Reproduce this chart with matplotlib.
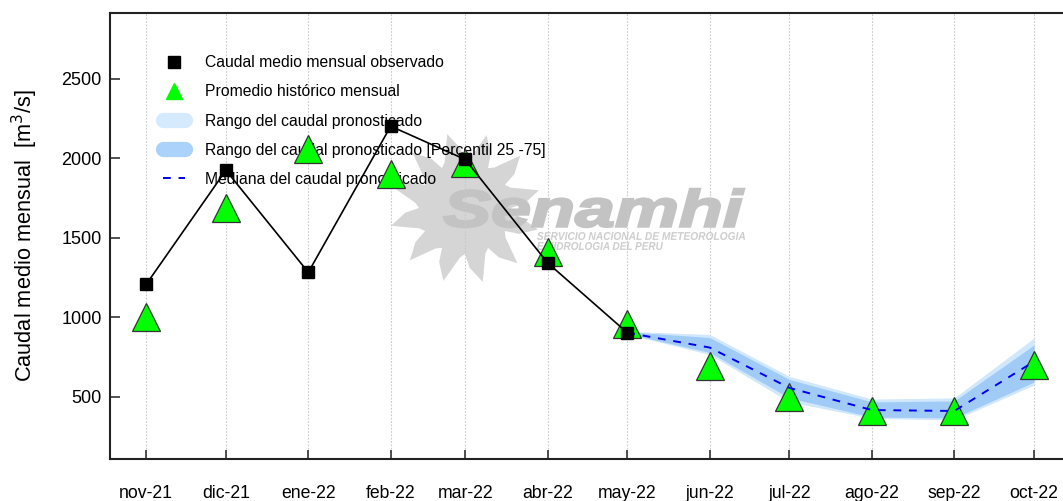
import numpy as np
import pandas as pd
import matplotlib
matplotlib.use("Agg")
import matplotlib.pyplot as plt
from matplotlib.lines import Line2D
from matplotlib.patches import PathPatch, Polygon
from matplotlib.textpath import TextPath
from matplotlib.font_manager import FontProperties
from matplotlib.transforms import Affine2D, IdentityTransform

# -------------------- data --------------------
months = pd.to_datetime([
    "2021-11-01", "2021-12-01", "2022-01-01", "2022-02-01", "2022-03-01", "2022-04-01",
    "2022-05-01", "2022-06-01", "2022-07-01", "2022-08-01", "2022-09-01", "2022-10-01",
])
month_labels = ["nov-21", "dic-21", "ene-22", "feb-22", "mar-22", "abr-22",
                "may-22", "jun-22", "jul-22", "ago-22", "sep-22", "oct-22"]

# observed monthly mean (nov-21 .. may-22)
observed = [1208, 1926, 1284, 2203, 1994, 1344, 904]
# historical monthly mean (all 12 months)
historical = [1000, 1687, 2060, 1905, 1970, 1409, 962, 698, 503, 409, 415, 701]

# forecast (may-22 .. oct-22)
fc_median = [904, 811, 557, 418, 412, 723]
fc_p25 = [898, 780, 494, 374, 368, 594]
fc_p75 = [910, 874, 610, 469, 475, 827]
fc_min = [895, 767, 469, 366, 355, 575]
fc_max = [913, 893, 629, 487, 494, 871]

W, H = 1063, 501
plt.rcParams["font.family"] = ["Liberation Sans", "DejaVu Sans"]

fig = plt.figure(figsize=(W / 100, H / 100), dpi=100)
ax = fig.add_axes([110 / W, (H - 459) / H, (W - 110) / W, (459 - 13) / H])

fc_dates = months[6:]
obs_dates = months[:7]

light_blue = "#d0e7fc"
mid_blue = "#9fcbf6"
dash = (0, (4, 4))

ax.fill_between(fc_dates, fc_min, fc_max, color=light_blue, lw=0, zorder=1)
ax.fill_between(fc_dates, fc_p25, fc_p75, color=mid_blue, lw=0, zorder=1.1)
ax.plot(months, historical, ls="none", marker="^", ms=19.5, mfc="#00ff00",
        mec="#333333", mew=0.9, zorder=3)
ax.plot(fc_dates, fc_median, color="#0000ee", ls=dash, lw=1.4, zorder=4)
ax.plot(obs_dates, observed, color="black", lw=1.2, marker="s", ms=8.5,
        mfc="black", mec="black", zorder=5)

# -------------------- watermark --------------------
ident = IdentityTransform()
cx, cy = 465, H - 208
n_rays = 12
pts = []
for k in range(n_rays):
    a0 = 2 * np.pi * k / n_rays
    step = 2 * np.pi / n_rays
    for frac, r in [(0.0, 46), (0.15, 60), (0.45, 76), (0.6, 62), (0.8, 50)]:
        a = a0 + frac * step
        pts.append((cx + r * np.cos(a), cy + r * np.sin(a)))
ax.add_patch(Polygon(pts, closed=True, transform=ident, facecolor="#d5d5d5",
                     edgecolor="none", zorder=0.2))


def text_patch(s, x0, x1, y_top, y_bot, color, lw_edge):
    prop = FontProperties(family="Liberation Sans", weight="bold", style="italic")
    tp = TextPath((0, 0), s, prop=prop, size=50)
    bb = tp.get_extents()
    sx = (x1 - x0) / bb.width
    sy = (y_bot - y_top) / bb.height
    tr = Affine2D().translate(-bb.x0, -bb.y0).scale(sx, sy).translate(x0, H - y_bot)
    path = tr.transform_path(tp)
    return PathPatch(path, transform=ident, facecolor=color, edgecolor=color,
                     lw=lw_edge, zorder=0.3)


ax.add_patch(text_patch("Senamhi", 444, 744, 189, 227, "#c3c3c3", 1.8))
ax.add_patch(text_patch("SERVICIO NACIONAL DE METEOROLOGIA", 537, 745, 232, 240, "#cdcdcd", 0))
ax.add_patch(text_patch("E HIDROLOGIA DEL PERU", 537, 663, 242, 250, "#cdcdcd", 0))

# -------------------- axes --------------------
ax.set_xlim(months[0] - pd.Timedelta(days=13.6), months[-1] + pd.Timedelta(days=10.9))
ax.set_ylim(110, 2915)
ax.set_xticks(months)
ax.set_xticklabels(month_labels)
ax.set_yticks([500, 1000, 1500, 2000, 2500])
ax.tick_params(axis="x", direction="in", length=6.5, width=1.1, pad=18.5,
               labelsize=12.7, color="#222222")
ax.tick_params(axis="y", direction="in", length=7, width=1.1, pad=6,
               labelsize=13, color="#222222")
ax.grid(axis="x", color="#c8c8c8", ls=(0, (1.5, 1.5)), lw=0.8)
ax.set_axisbelow(True)
for side in ["left", "bottom", "top"]:
    ax.spines[side].set_linewidth(1.5)
    ax.spines[side].set_color("#222222")
ax.spines["right"].set_visible(False)

ax.set_ylabel("Caudal medio mensual  [m$^3$/s]", fontsize=15.7, labelpad=15)

handles = [
    Line2D([], [], ls="none", marker="s", ms=8.5, mfc="black", mec="black"),
    Line2D([], [], ls="none", marker="^", ms=11, mfc="#00ff00", mec="#00ff00"),
    Line2D([], [], color="#d6eafd", lw=11, solid_capstyle="round"),
    Line2D([], [], color="#abd2fb", lw=11, solid_capstyle="round"),
    Line2D([], [], color="#0000ee", ls=dash, lw=1.4),
]
labels = [
    "Caudal medio mensual observado",
    "Promedio histórico mensual",
    "Rango del caudal pronosticado",
    "Rango del caudal pronosticado [Percentil 25 -75]",
    "Mediana del caudal pronosticado",
]
leg = ax.legend(handles, labels, loc="upper left", bbox_to_anchor=(0.0556, 0.905),
                frameon=False, fontsize=11.3, borderpad=0, borderaxespad=0,
                handlelength=1.4, handletextpad=1.3, labelspacing=0.9)
leg.set_zorder(2)

fig.savefig("out.png", dpi=100)
